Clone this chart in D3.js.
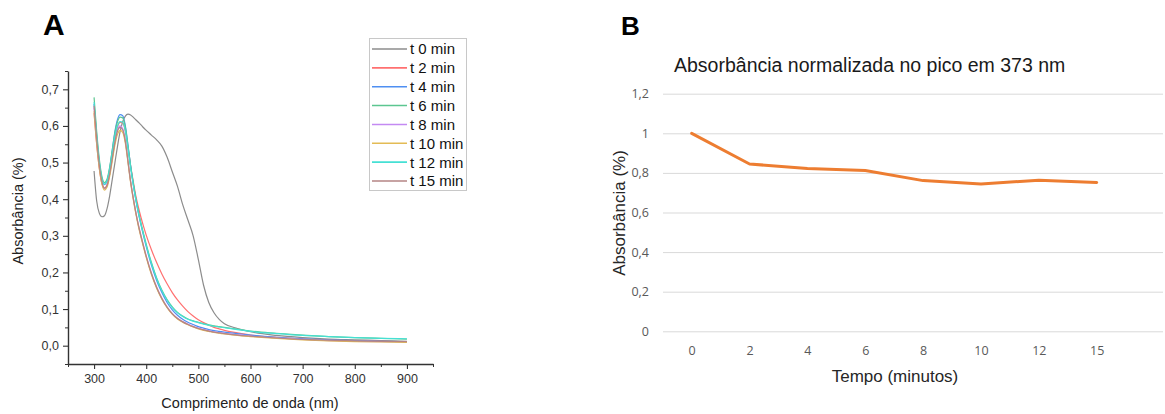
<!DOCTYPE html>
<html>
<head>
<meta charset="utf-8">
<script src="https://cdn.jsdelivr.net/npm/d3@7"></script>
<style>
  body { margin: 0; background: #fff; }
  svg { display: block; }
</style>
</head>
<body>
<svg id="fig" width="1165" height="414"></svg>
<script>
// ---- panel A: UV-vis spectra ----
const wavelengths = [300,305,310,315,320,325,330,335,340,345,350,355,360,365,370,375,380,385,390,395,
                     400,410,420,430,440,450,460,470,480,490,500,510,520,530,540,550,575,600,650,700,750,800,850,900];

const t0  = [.477,.395,.362,.352,.355,.375,.410,.455,.500,.545,.585,.612,.627,.632,.630,.624,.617,.610,.603,.595,
             .588,.575,.562,.545,.515,.475,.435,.385,.343,.300,.235,.165,.118,.090,.072,.060,.047,.038,.028,.022,.018,.016,.014,.012];
const t2  = [.635,.550,.485,.443,.430,.440,.474,.521,.568,.598,.610,.608,.585,.540,.492,.450,.410,.378,.350,.325,
             .302,.262,.227,.196,.169,.145,.125,.108,.093,.081,.071,.063,.056,.050,.046,.042,.035,.029,.023,.018,.015,.013,.012,.011];
const t4  = [.660,.570,.500,.455,.440,.450,.485,.535,.585,.618,.631,.628,.600,.548,.492,.443,.400,.362,.330,.300,
             .271,.220,.178,.145,.118,.098,.083,.072,.064,.058,.052,.048,.044,.041,.039,.037,.033,.029,.023,.019,.016,.014,.012,.011];
const t6  = [.678,.585,.510,.462,.445,.455,.488,.535,.582,.612,.624,.622,.596,.546,.492,.445,.403,.366,.334,.305,
             .277,.227,.185,.152,.126,.106,.091,.081,.073,.068,.064,.060,.057,.054,.052,.050,.045,.040,.034,.029,.025,.022,.020,.018];
const t8  = [.650,.560,.490,.445,.428,.437,.470,.515,.560,.590,.600,.592,.560,.505,.450,.405,.365,.330,.300,.272,
             .245,.198,.160,.130,.106,.088,.075,.066,.059,.053,.048,.044,.041,.038,.036,.034,.030,.026,.021,.017,.014,.012,.011,.010];
const t10 = [.640,.552,.485,.442,.425,.433,.463,.505,.548,.577,.588,.582,.552,.500,.446,.401,.361,.326,.296,.268,
             .241,.194,.157,.127,.104,.086,.073,.064,.057,.051,.046,.042,.039,.036,.034,.032,.028,.025,.020,.016,.013,.011,.010,.009];
const t12 = [.665,.575,.503,.457,.441,.450,.482,.527,.572,.601,.612,.610,.586,.538,.486,.440,.399,.363,.331,.302,
             .274,.224,.183,.150,.124,.104,.090,.080,.072,.067,.063,.059,.056,.053,.051,.049,.044,.039,.033,.028,.025,.022,.020,.019];
const t15 = [.655,.565,.494,.448,.430,.438,.469,.512,.556,.586,.596,.589,.558,.504,.449,.404,.364,.329,.299,.271,
             .244,.197,.159,.129,.105,.087,.074,.065,.058,.052,.047,.043,.040,.037,.035,.033,.029,.026,.021,.017,.015,.013,.012,.011];

const seriesNames  = ["t 0 min","t 2 min","t 4 min","t 6 min","t 8 min","t 10 min","t 12 min","t 15 min"];
const seriesValues = [t0, t2, t4, t6, t8, t10, t12, t15];
const seriesColors = ["#8c8c8c","#ff7070","#4f8ff2","#5cc691","#c48af2","#e3bb55","#45e0d4","#b58585"];

// ---- panel B: normalised absorbance at 373 nm ----
const times      = ["0","2","4","6","8","10","12","15"];
const normValues = [1.0, 0.845, 0.822, 0.812, 0.761, 0.744, 0.763, 0.752];

const svg = d3.select("#fig");
const commaFmt = f => v => d3.format(f)(v).replace(".", ",");

// ================= Panel A =================
const ax = d3.scaleLinear().domain([250, 950]).range([68, 433]);
const ay = d3.scaleLinear().domain([-0.05, 0.75]).range([364, 71]);

svg.append("text")
    .attr("x", 43).attr("y", 35)
    .style("font-family", "Liberation Sans, Arial, sans-serif")
    .style("font-weight", "bold")
    .style("font-size", "30px")
    .text("A");

const pA = svg.append("g");

// minor ticks first so the major axis draws over them
pA.append("g")
    .attr("transform", `translate(0,364)`)
    .call(d3.axisBottom(ax).tickValues(d3.range(250, 951, 100)).tickSize(3).tickFormat(""))
    .call(g => g.select(".domain").remove())
    .call(g => g.selectAll("line").attr("stroke", "#333"));
pA.append("g")
    .attr("transform", `translate(68,0)`)
    .call(d3.axisLeft(ay).tickValues([-0.05,0.05,0.15,0.25,0.35,0.45,0.55,0.65,0.75]).tickSize(3).tickFormat(""))
    .call(g => g.select(".domain").remove())
    .call(g => g.selectAll("line").attr("stroke", "#333"));

const xAxisA = pA.append("g")
    .attr("transform", `translate(0,364)`)
    .call(d3.axisBottom(ax).tickValues(d3.range(300, 901, 100)).tickSize(5).tickSizeOuter(0).tickPadding(5).tickFormat(d3.format("d")));
const yAxisA = pA.append("g")
    .attr("transform", `translate(68,0)`)
    .call(d3.axisLeft(ay).tickValues(d3.range(0, 0.71, 0.1)).tickSize(5).tickSizeOuter(0).tickPadding(4).tickFormat(commaFmt(".1f")));

[xAxisA, yAxisA].forEach(g => {
    g.select(".domain").attr("stroke", "#333").attr("stroke-width", 1.4);
    g.selectAll("line").attr("stroke", "#333").attr("stroke-width", 1.1);
    g.selectAll("text")
        .style("font-family", "Liberation Sans, Arial, sans-serif")
        .style("font-size", "12.5px")
        .attr("fill", "#333");
});

const line = d3.line()
    .x(d => ax(d[0]))
    .y(d => ay(d[1]))
    .curve(d3.curveMonotoneX);

pA.append("g")
    .selectAll("path")
    .data(seriesValues)
    .join("path")
    .attr("d", vals => line(wavelengths.map((w, i) => [w, vals[i]])))
    .attr("fill", "none")
    .attr("stroke", (d, i) => seriesColors[i])
    .attr("stroke-width", 1.2);

// axis titles
svg.append("text")
    .attr("x", 250).attr("y", 408)
    .attr("text-anchor", "middle")
    .style("font-family", "Liberation Sans, Arial, sans-serif")
    .style("font-size", "14.5px")
    .attr("fill", "#222")
    .text("Comprimento de onda (nm)");
svg.append("text")
    .attr("transform", "translate(23,211) rotate(-90)")
    .attr("text-anchor", "middle")
    .style("font-family", "Liberation Sans, Arial, sans-serif")
    .style("font-size", "14.5px")
    .attr("fill", "#222")
    .text("Absorbância (%)");

// legend
const leg = svg.append("g");
leg.append("rect")
    .attr("x", 369.5).attr("y", 38.5)
    .attr("width", 97).attr("height", 152)
    .attr("fill", "#fff")
    .attr("stroke", "#c8c8c8");
const legRow = d3.scalePoint().domain(seriesNames).range([49, 181]);
const item = leg.selectAll("g.item")
    .data(seriesNames)
    .join("g")
    .attr("class", "item")
    .attr("transform", d => `translate(0,${legRow(d)})`);
item.append("line")
    .attr("x1", 372).attr("x2", 407)
    .attr("stroke", (d, i) => seriesColors[i])
    .attr("stroke-width", 1.6);
item.append("text")
    .attr("x", 410).attr("dy", "0.36em")
    .style("font-family", "Liberation Sans, Arial, sans-serif")
    .style("font-size", "15px")
    .attr("fill", "#111")
    .text(d => d);

// ================= Panel B =================
const bx = d3.scalePoint().domain(times).range([691.7, 1096.7]);
const by = d3.scaleLinear().domain([0, 1.2]).range([331.3, 93.7]);

svg.append("text")
    .attr("x", 621).attr("y", 35)
    .style("font-family", "Liberation Sans, Arial, sans-serif")
    .style("font-weight", "bold")
    .style("font-size", "26px")
    .text("B");

svg.append("text")
    .attr("x", 674).attr("y", 71.5)
    .style("font-family", "Liberation Sans, Arial, sans-serif")
    .style("font-size", "19.5px")
    .attr("fill", "#1a1a1a")
    .text("Absorbância normalizada no pico em 373 nm");

const gridB = svg.append("g")
    .attr("transform", "translate(663,0)")
    .call(d3.axisLeft(by).tickValues(d3.range(0, 1.21, 0.2))
        .tickSize(-500).tickPadding(14)
        .tickFormat(v => Math.abs(v - 1) < 1e-9 ? "1" : v === 0 ? "0" : commaFmt(".1f")(v)));
gridB.select(".domain").remove();
gridB.selectAll("line").attr("stroke", "#d9d9d9").attr("stroke-width", 1);
gridB.selectAll("text")
    .style("font-family", "Open Sans, sans-serif")
    .style("font-size", "12.5px")
    .attr("fill", "#595959");

const xAxisB = svg.append("g")
    .attr("transform", "translate(0,331.3)")
    .call(d3.axisBottom(bx).tickSize(0).tickPadding(15));
xAxisB.select(".domain").remove();
xAxisB.selectAll("text")
    .style("font-family", "Open Sans, sans-serif")
    .style("font-size", "12.5px")
    .attr("fill", "#595959");

svg.append("path")
    .datum(normValues)
    .attr("d", d3.line().x((d, i) => bx(times[i])).y(d => by(d)))
    .attr("fill", "none")
    .attr("stroke", "#ED7D31")
    .attr("stroke-width", 3)
    .attr("stroke-linejoin", "round")
    .attr("stroke-linecap", "round");

svg.append("text")
    .attr("x", 895).attr("y", 382)
    .attr("text-anchor", "middle")
    .style("font-family", "Liberation Sans, Arial, sans-serif")
    .style("font-size", "17px")
    .attr("fill", "#262626")
    .text("Tempo (minutos)");
svg.append("text")
    .attr("transform", "translate(625,213) rotate(-90)")
    .attr("text-anchor", "middle")
    .style("font-family", "Liberation Sans, Arial, sans-serif")
    .style("font-size", "17px")
    .attr("fill", "#262626")
    .text("Absorbância (%)");
</script>
</body>
</html>
